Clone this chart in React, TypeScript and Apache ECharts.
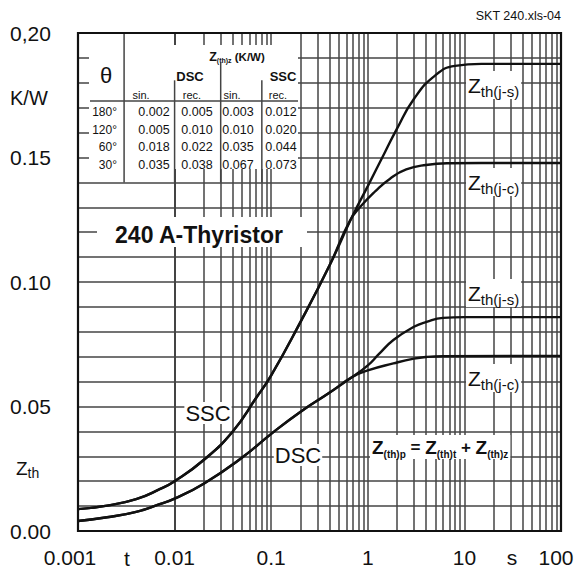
import React, { useEffect, useRef } from "react";
import * as echarts from "echarts";

const FONT = "'Liberation Sans', Arial, Helvetica, sans-serif";
const INK = "#111";
const GRID_COLOR = "#444";

// Axis tick labels
const X_DECADE_LABELS: Record<string, string> = {
  "-3": "0.001",
  "-2": "0.01",
  "-1": "0.1",
  "0": "1",
  "1": "10",
  "2": "100",
};
const Y_TICK_LABELS: Record<string, string> = {
  "0": "0.00",
  "5": "0.05",
  "10": "0.10",
  "15": "0.15",
  "20": "0,20",
};

// Minor log grid positions (2..9 in each decade)
const DECADES = [0.001, 0.01, 0.1, 1, 10];
const MULTIPLIERS = [2, 3, 4, 5, 6, 7, 8, 9];

// Curves: [t (s), Zth (K/W)]
const SSC_JUNCTION_SINK: [number, number][] = [
  [0.001, 0.0088], [0.002, 0.0102], [0.004, 0.0128], [0.007, 0.0168],
  [0.01, 0.02], [0.02, 0.0285], [0.04, 0.04], [0.07, 0.0535],
  [0.1, 0.0625], [0.2, 0.0838], [0.4, 0.1065], [0.7, 0.1268],
  [1, 0.1385], [1.5, 0.152], [2, 0.1615], [3, 0.1735], [5, 0.183],
  [8, 0.1868], [15, 0.1876], [100, 0.1876],
];
const SSC_JUNCTION_CASE: [number, number][] = [
  [0.001, 0.0088], [0.002, 0.0102], [0.004, 0.0128], [0.007, 0.0168],
  [0.01, 0.02], [0.02, 0.0285], [0.04, 0.04], [0.07, 0.0535],
  [0.1, 0.0625], [0.2, 0.0838], [0.4, 0.1065], [0.65, 0.1245],
  [0.85, 0.1305], [1.2, 0.1365], [1.7, 0.1415], [2.5, 0.1452],
  [4, 0.147], [7, 0.1477], [15, 0.1478], [100, 0.1478],
];
const DSC_JUNCTION_SINK: [number, number][] = [
  [0.001, 0.004], [0.002, 0.0055], [0.004, 0.0077], [0.007, 0.0108],
  [0.01, 0.013], [0.02, 0.019], [0.05, 0.0295], [0.1, 0.039],
  [0.2, 0.0478], [0.4, 0.0555], [0.7, 0.062], [1, 0.0665], [1.3, 0.071],
  [1.84, 0.0767], [3, 0.082], [4.06, 0.084], [6, 0.0856], [10, 0.0859],
  [100, 0.0859],
];
const DSC_JUNCTION_CASE: [number, number][] = [
  [0.001, 0.004], [0.002, 0.0055], [0.004, 0.0077], [0.007, 0.0108],
  [0.01, 0.013], [0.02, 0.019], [0.05, 0.0295], [0.1, 0.039],
  [0.2, 0.0478], [0.4, 0.0555], [0.7, 0.062], [1, 0.0645], [1.84, 0.0673],
  [3, 0.0692], [4.06, 0.0699], [6, 0.0702], [100, 0.0703],
];

// Inset table
const TABLE_ANGLES = ["180°", "120°", "60°", "30°"];
const DSC_SIN = [0.002, 0.005, 0.018, 0.035];
const DSC_REC = [0.005, 0.01, 0.022, 0.038];
const SSC_SIN = [0.003, 0.01, 0.035, 0.067];
const SSC_REC = [0.012, 0.02, 0.044, 0.073];

const curveSeries = (name: string, data: [number, number][]) => ({
  type: "line",
  name,
  data,
  showSymbol: false,
  symbol: "none",
  smooth: 0.5,
  lineStyle: { color: INK, width: 2.4 },
  z: 5,
  silent: true,
});

export default function App() {
  const ref = useRef<HTMLDivElement>(null);

  useEffect(() => {
    const chart = echarts.init(ref.current!, null, { renderer: "svg" });
    const minorLines: { xAxis: number }[] = [];
    DECADES.forEach((d) =>
      MULTIPLIERS.forEach((m) => minorLines.push({ xAxis: +(d * m).toPrecision(3) }))
    );

    chart.setOption({
      animation: false,
      backgroundColor: "#fff",
      grid: { left: 78, right: 19, top: 33, bottom: 44 },
      xAxis: {
        type: "log",
        logBase: 10,
        min: 0.001,
        max: 100,
        axisLine: { show: false },
        axisTick: { show: false },
        splitLine: { show: true, lineStyle: { color: GRID_COLOR, width: 1.5 } },
        axisLabel: {
          margin: 16,
          fontSize: 21,
          color: INK,
          fontFamily: FONT,
          formatter: (v: number) => {
            const k = Math.round(Math.log10(v));
            const s = X_DECADE_LABELS[String(k)] ?? "";
            if (k === -3) return "{l|" + s + "}";
            if (k === 2) return "{r|" + s + "}";
            return s;
          },
          rich: {
            l: { fontSize: 21, fontFamily: FONT, color: INK, padding: [0, 16, 0, 0] },
            r: { fontSize: 21, fontFamily: FONT, color: INK, padding: [0, 10, 0, 0] },
          },
        },
      },
      yAxis: {
        type: "value",
        min: 0,
        max: 0.2,
        interval: 0.01,
        axisLine: { show: false },
        axisTick: { show: false },
        splitLine: { show: true, lineStyle: { color: GRID_COLOR, width: 1.5 } },
        axisLabel: {
          align: "left",
          margin: 68,
          fontSize: 21,
          color: INK,
          fontFamily: FONT,
          formatter: (v: number) => Y_TICK_LABELS[String(Math.round(v * 100))] ?? "",
        },
      },
      series: [
        {
          type: "line",
          name: "minor-grid",
          data: [],
          z: 1,
          silent: true,
          markLine: {
            silent: true,
            symbol: ["none", "none"],
            label: { show: false },
            lineStyle: { color: GRID_COLOR, width: 1.5, type: "solid" },
            data: minorLines,
            z: 1,
          },
        },
        curveSeries("SSC Zth(j-s)", SSC_JUNCTION_SINK),
        curveSeries("SSC Zth(j-c)", SSC_JUNCTION_CASE),
        curveSeries("DSC Zth(j-s)", DSC_JUNCTION_SINK),
        curveSeries("DSC Zth(j-c)", DSC_JUNCTION_CASE),
      ],
    });

    const px = (t: number, z: number) =>
      chart.convertToPixel({ xAxisIndex: 0, yAxisIndex: 0 }, [t, z]) as number[];
    const [x0, yTop] = px(0.001, 0.2);
    const [x1, yBot] = px(100, 0);

    const txt = (
      x: number,
      y: number,
      text: string,
      size: number,
      opts: any = {}
    ) => ({
      type: "text",
      x,
      y,
      z: 10,
      silent: true,
      style: {
        text,
        fontSize: size,
        fontFamily: FONT,
        fill: INK,
        align: opts.align ?? "center",
        verticalAlign: "middle",
        fontWeight: opts.bold ? "bold" : "normal",
        ...(opts.bg ? { backgroundColor: "#fff", padding: opts.pad ?? [0, 2] } : {}),
        ...(opts.rich ? { rich: opts.rich } : {}),
      },
    });

    const zLabel = (x: number, y: number, sub: string) =>
      txt(x, y, "{z|Z}{s|" + sub + "}", 21, {
        align: "left",
        bg: true,
        pad: [0, 2],
        rich: {
          z: { fontSize: 21, fontFamily: FONT, fill: INK, lineHeight: 28, verticalAlign: "middle" },
          s: { fontSize: 15, fontFamily: FONT, fill: INK, lineHeight: 15, verticalAlign: "bottom" },
        },
      });

    const sepLine = (t: number, zFrom: number, zTo: number) => {
      const [sx, sy1] = px(t, zFrom);
      const [, sy2] = px(t, zTo);
      return {
        type: "line",
        z: 4,
        silent: true,
        shape: { x1: sx, y1: sy1, x2: sx, y2: sy2 },
        style: { stroke: GRID_COLOR, lineWidth: 1.5 },
      };
    };

    const colX = [154, 197, 238, 281];
    const rowY = [112, 129.5, 147, 164.5];
    const tableTexts: any[] = [];
    TABLE_ANGLES.forEach((a, i) => {
      tableTexts.push(txt(117, rowY[i], a, 12, { align: "right" }));
      [DSC_SIN, DSC_REC, SSC_SIN, SSC_REC].forEach((col, j) =>
        tableTexts.push(txt(colX[j], rowY[i], col[i].toFixed(3), 12.5))
      );
    });

    chart.setOption({
      graphic: [
        // white inset boxes
        { type: "rect", z: 3, silent: true, shape: { x: 89, y: 45, width: 209, height: 124 }, style: { fill: "#fff" } },
        { type: "rect", z: 3, silent: true, shape: { x: 97, y: 217, width: 210, height: 30 }, style: { fill: "#fff" } },
        // table rules
        sepLine(0.003, 0.2, 0.14),
        sepLine(0.01, 0.181, 0.14),
        sepLine(0.03, 0.188, 0.14),
        sepLine(0.08, 0.181, 0.14),
        { type: "line", z: 4, silent: true, shape: { x1: 90, y1: 101, x2: 298, y2: 101 }, style: { stroke: GRID_COLOR, lineWidth: 1.5 } },
        // table texts
        txt(106, 75, "θ", 22),
        txt(237, 57, "{z|Z}{s|(th)z}{k| (K/W)}", 12, {
          rich: {
            z: { fontSize: 12.5, fontWeight: "bold", fontFamily: FONT, fill: INK, lineHeight: 14 },
            s: { fontSize: 7, fontWeight: "bold", fontFamily: FONT, fill: INK, lineHeight: 8, verticalAlign: "bottom" },
            k: { fontSize: 11.5, fontWeight: "bold", fontFamily: FONT, fill: INK, lineHeight: 14 },
          },
        }),
        txt(190, 76, "DSC", 13, { bold: true }),
        txt(283, 76, "SSC", 13, { bold: true }),
        txt(141, 95, "sin.", 11),
        txt(192, 95, "rec.", 11),
        txt(232, 95, "sin.", 11),
        txt(278, 95, "rec.", 11),
        ...tableTexts,
        // title
        txt(199, 235, "240 A-Thyristor", 23, { bold: true }),
        // curve labels
        txt(208, 413, "SSC", 22, { bg: true, pad: [0, 1] }),
        txt(298, 455, "DSC", 22, { bg: true, pad: [0, 1] }),
        zLabel(466, 85, "th(j-s)"),
        zLabel(466, 182, "th(j-c)"),
        zLabel(466, 293, "th(j-s)"),
        zLabel(466, 378, "th(j-c)"),
        txt(370, 447, "{z|Z}{s|(th)p}{o| = }{z|Z}{s|(th)t}{o| + }{z|Z}{s|(th)z}", 19, {
          align: "left",
          bg: true,
          pad: [0, 2],
          rich: {
            z: { fontSize: 19, fontWeight: "bold", fontFamily: FONT, fill: INK, lineHeight: 24 },
            o: { fontSize: 17, fontWeight: "bold", fontFamily: FONT, fill: INK, lineHeight: 24 },
            s: { fontSize: 10, fontWeight: "bold", fontFamily: FONT, fill: INK, lineHeight: 11, verticalAlign: "bottom" },
          },
        }),
        // axis captions
        txt(10, 98, "K/W", 20, { align: "left" }),
        txt(16, 468, "{z|Z}{s|th}", 19, {
          align: "left",
          rich: {
            z: { fontSize: 19, fontFamily: FONT, fill: INK, lineHeight: 24 },
            s: { fontSize: 14, fontFamily: FONT, fill: INK, lineHeight: 14, verticalAlign: "bottom" },
          },
        }),
        txt(127, 558, "t", 21),
        txt(512, 557, "s", 21),
        txt(x1, 16, "SKT 240.xls-04", 12.5, { align: "right" }),
        // frame
        {
          type: "rect",
          z: 9,
          silent: true,
          shape: { x: x0, y: yTop, width: x1 - x0, height: yBot - yTop },
          style: { fill: "none", stroke: INK, lineWidth: 2.2 },
        },
      ],
    });

    return () => chart.dispose();
  }, []);

  return (
    <div
      ref={ref}
      style={{ position: "absolute", left: 0, top: 0, width: 580, height: 575, background: "#fff" }}
    />
  );
}
